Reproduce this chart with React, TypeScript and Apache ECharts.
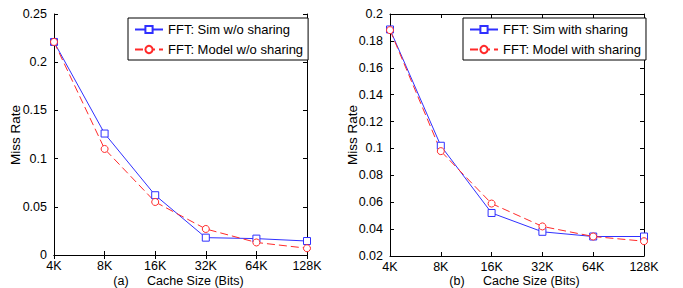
import React, { useEffect, useRef } from "react";
import * as echarts from "echarts";

const categories = ["4K", "8K", "16K", "32K", "64K", "128K"];
const simNoShare = [0.221, 0.126, 0.062, 0.018, 0.017, 0.0145];
const modelNoShare = [0.221, 0.110, 0.055, 0.027, 0.013, 0.007];
const simShare = [0.1885, 0.102, 0.052, 0.038, 0.0345, 0.0345];
const modelShare = [0.188, 0.098, 0.059, 0.042, 0.0345, 0.031];

const FONT = "Liberation Sans, Arial, sans-serif";
const BLUE = "#3030ff";
const RED = "#ff2a2a";

export default function App() {
  const ref = useRef<HTMLDivElement>(null);
  useEffect(() => {
    if (!ref.current) return;
    const chart = echarts.init(ref.current, undefined, { renderer: "svg" });
    const lineStyleAxis = { show: true, lineStyle: { color: "#000", width: 1 } };
    const xAx = (gridIndex: number, position: "top" | "bottom", labels: boolean) => ({
      type: "category",
      gridIndex,
      position,
      data: categories,
      boundaryGap: false,
      axisLine: lineStyleAxis,
      axisTick: { show: true, inside: true, length: 4, lineStyle: { color: "#000" } },
      axisLabel: { show: labels, color: "#000", fontSize: 12.5, fontFamily: FONT, margin: 4 },
      splitLine: { show: false },
    });
    const yAx = (gridIndex: number, position: "left" | "right", min: number, max: number, interval: number, labels: boolean) => ({
      type: "value",
      gridIndex,
      position,
      min,
      max,
      interval,
      axisLine: lineStyleAxis,
      axisTick: { show: true, inside: true, length: 4, lineStyle: { color: "#000" } },
      axisLabel: { show: labels, color: "#000", fontSize: 12.5, fontFamily: FONT, margin: 7 },
      splitLine: { show: false },
    });
    const legendBase = {
      orient: "vertical",
      backgroundColor: "#fff",
      borderColor: "#000",
      borderWidth: 1,
      padding: [5, 5, 4, 6],
      itemWidth: 28,
      itemHeight: 9,
      itemGap: 7,
      textStyle: { color: "#000", fontSize: 13, fontFamily: FONT },
    };
    const sq = { symbol: "rect", symbolSize: 7, itemStyle: { color: "#fff", borderColor: BLUE, borderWidth: 1 }, lineStyle: { color: BLUE, width: 1 } };
    const ci = { symbol: "circle", symbolSize: 7, itemStyle: { color: "#fff", borderColor: RED, borderWidth: 1 }, lineStyle: { color: RED, width: 1, type: [8, 4] } };
    const cap = (text: string, x: number, align: "left" | "center") => ({
      type: "text", x, y: 281,
      style: { text, fontSize: 12.5, fontFamily: FONT, fill: "#000", align, verticalAlign: "middle" },
    });
    chart.setOption({
      animation: false,
      backgroundColor: "#fff",
      grid: [
        { left: 54, top: 14, width: 253, height: 241 },
        { left: 390, top: 14, width: 254, height: 242 },
      ],
      xAxis: [
        xAx(0, "bottom", true),
        xAx(0, "top", false),
        xAx(1, "bottom", true),
        xAx(1, "top", false),
      ],
      yAxis: [
        yAx(0, "left", 0, 0.25, 0.05, true),
        yAx(0, "right", 0, 0.25, 0.05, false),
        yAx(1, "left", 0.02, 0.2, 0.02, true),
        yAx(1, "right", 0.02, 0.2, 0.02, false),
      ],
      legend: [
        { ...legendBase, left: 128, top: 18, data: ["FFT: Sim w/o sharing", "FFT: Model w/o sharing"] },
        { ...legendBase, left: 463, top: 18, data: ["FFT: Sim with sharing", "FFT: Model with sharing"] },
      ],
      series: [
        { name: "FFT: Sim w/o sharing", type: "line", xAxisIndex: 0, yAxisIndex: 0, data: simNoShare, ...sq },
        { name: "FFT: Model w/o sharing", type: "line", xAxisIndex: 0, yAxisIndex: 0, data: modelNoShare, ...ci },
        { name: "FFT: Sim with sharing", type: "line", xAxisIndex: 2, yAxisIndex: 2, data: simShare, ...sq },
        { name: "FFT: Model with sharing", type: "line", xAxisIndex: 2, yAxisIndex: 2, data: modelShare, ...ci },
      ],
      graphic: [
        { type: "text", x: 15, y: 135, rotation: Math.PI / 2, style: { text: "Miss Rate", fontSize: 13.5, fontFamily: FONT, fill: "#000", align: "center", verticalAlign: "middle" } },
        { type: "text", x: 352, y: 135, rotation: Math.PI / 2, style: { text: "Miss Rate", fontSize: 13.5, fontFamily: FONT, fill: "#000", align: "center", verticalAlign: "middle" } },
        cap("(a)", 121, "center"),
        cap("Cache Size (Bits)", 147, "left"),
        cap("(b)", 457, "center"),
        cap("Cache Size (Bits)", 483, "left"),
      ],
    });
    return () => chart.dispose();
  }, []);
  return <div ref={ref} style={{ width: 683, height: 288, position: "absolute", left: 0, top: 0 }} />;
}
